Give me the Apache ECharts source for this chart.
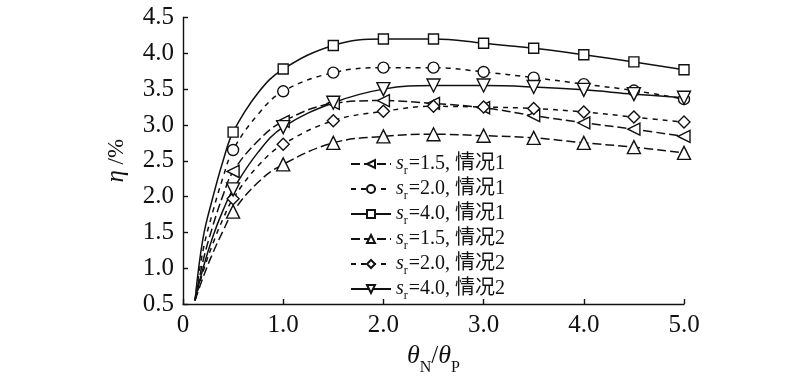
<!DOCTYPE html>
<html>
<head>
<meta charset="utf-8">
<script src="https://cdn.jsdelivr.net/npm/echarts@6/dist/echarts.min.js"></script>
<style>html,body{margin:0;padding:0;background:#fff;}#c{width:800px;height:381px;}</style>
</head>
<body>
<div id="c"></div>
<script>
// x positions (θN/θP); markers drawn only at 0.5, 1.0, ... 5.0
var xVals = [0.12, 0.2, 0.3, 0.4, 0.5, 0.75, 1.0, 1.5, 2.0, 2.5, 3.0, 3.5, 4.0, 4.5, 5.0];
var markerX = [0.5, 1.0, 1.5, 2.0, 2.5, 3.0, 3.5, 4.0, 4.5, 5.0];
// η (%) per series
var sr15case1 = [0.55, 1.10, 1.60, 2.02, 2.35, 2.78, 3.05, 3.30, 3.34, 3.30, 3.24, 3.13, 3.03, 2.94, 2.84];
var sr20case1 = [0.55, 1.25, 1.80, 2.27, 2.65, 3.15, 3.47, 3.73, 3.80, 3.80, 3.74, 3.66, 3.57, 3.48, 3.36];
var sr40case1 = [0.55, 1.42, 2.00, 2.50, 2.90, 3.45, 3.78, 4.11, 4.20, 4.20, 4.14, 4.07, 3.98, 3.88, 3.77];
var sr15case2 = [0.55, 0.87, 1.22, 1.52, 1.79, 2.20, 2.45, 2.75, 2.84, 2.87, 2.85, 2.82, 2.75, 2.69, 2.61];
var sr20case2 = [0.55, 0.95, 1.35, 1.69, 1.97, 2.43, 2.73, 3.06, 3.19, 3.26, 3.25, 3.23, 3.18, 3.11, 3.04];
var sr40case2 = [0.55, 1.00, 1.45, 1.81, 2.10, 2.62, 2.97, 3.31, 3.50, 3.55, 3.55, 3.53, 3.49, 3.43, 3.38];
var seriesNames = ['1.5, 情况1', '2.0, 情况1', '4.0, 情况1', '1.5, 情况2', '2.0, 情况2', '4.0, 情况2'];
var xTickLabels = ['0', '1.0', '2.0', '3.0', '4.0', '5.0'];
var yTickLabels = ['0.5', '1.0', '1.5', '2.0', '2.5', '3.0', '3.5', '4.0', '4.5'];

var FONT = '"Liberation Serif", "Noto Sans CJK SC", serif';
var INK = '#111';

function buildData(vals) {
  return vals.map(function (v, i) {
    var item = { value: [xVals[i], v] };
    if (markerX.indexOf(xVals[i]) < 0) item.symbol = 'none';
    return item;
  });
}

var styles = [
  { vals: sr15case1, symbol: 'triangle', rot: 90, size: 12, dash: [9, 4] },
  { vals: sr20case1, symbol: 'circle', rot: 0, size: 11, dash: [5, 5] },
  { vals: sr40case1, symbol: 'rect', rot: 0, size: 10, dash: 'solid' },
  { vals: sr15case2, symbol: 'triangle', rot: 0, size: 13, dash: [9, 4] },
  { vals: sr20case2, symbol: 'diamond', rot: 0, size: 12, dash: [5, 5] },
  { vals: sr40case2, symbol: 'triangle', rot: 180, size: 13, dash: 'solid' }
];

var series = styles.map(function (s, k) {
  return {
    name: seriesNames[k],
    type: 'line',
    data: buildData(s.vals),
    smooth: 0.4,
    symbol: s.symbol,
    symbolSize: s.size,
    symbolRotate: s.rot,
    showAllSymbol: true,
    itemStyle: { color: '#fff', borderColor: INK, borderWidth: 1.4 },
    lineStyle: { color: INK, width: 1.5, type: s.dash },
    emphasis: { disabled: true },
    z: 2
  };
});

var chart = echarts.init(document.getElementById('c'), null, { renderer: 'canvas' });
chart.setOption({
  animation: false,
  backgroundColor: '#fff',
  grid: { left: 183, right: 116, top: 17.5, bottom: 77, containLabel: false },
  xAxis: {
    type: 'value', min: 0, max: 5, interval: 1,
    axisLine: { show: true, lineStyle: { color: INK, width: 1.4 } },
    axisTick: { show: true, inside: true, length: 5, lineStyle: { color: INK, width: 1.4 } },
    splitLine: { show: false },
    axisLabel: {
      color: INK, fontFamily: FONT, fontSize: 25, margin: 9,
      formatter: function (v) { return xTickLabels[Math.round(v)]; }
    },
    name: '{i|θ}{sub|N}{n|/}{i|θ}{sub|P}',
    nameLocation: 'middle', nameGap: 39,
    nameTextStyle: {
      rich: {
        i: { fontFamily: FONT, fontStyle: 'italic', fontSize: 26, color: INK, lineHeight: 26 },
        n: { fontFamily: FONT, fontSize: 25, color: INK, lineHeight: 26 },
        sub: { fontFamily: FONT, fontSize: 16, color: INK, verticalAlign: 'bottom', lineHeight: 15, padding: [0, 0, -7, 0] }
      }
    }
  },
  yAxis: {
    type: 'value', min: 0.5, max: 4.5, interval: 0.5,
    axisLine: { show: true, lineStyle: { color: INK, width: 1.4 } },
    axisTick: { show: true, inside: true, length: 5, lineStyle: { color: INK, width: 1.4 } },
    splitLine: { show: false },
    axisLabel: {
      color: INK, fontFamily: FONT, fontSize: 25, margin: 9,
      formatter: function (v) { return yTickLabels[Math.round((v - 0.5) / 0.5)]; }
    },
    name: '{i|η}{n| /%}',
    nameLocation: 'middle', nameGap: 54, nameRotate: 90,
    nameTextStyle: {
      rich: {
        i: { fontFamily: FONT, fontStyle: 'italic', fontSize: 25, color: INK },
        n: { fontFamily: FONT, fontSize: 23, color: INK }
      }
    }
  },
  legend: {
    orient: 'vertical', left: 345, top: 149,
    itemWidth: 40, itemHeight: 10, itemGap: 2,
    data: seriesNames,
    formatter: function (name) { return '{i|s}{sub|r}{n|=' + name + '}'; },
    textStyle: {
      rich: {
        i: { fontFamily: FONT, fontStyle: 'italic', fontSize: 20, color: INK, lineHeight: 20 },
        n: { fontFamily: FONT, fontSize: 20, color: INK, lineHeight: 20 },
        sub: { fontFamily: FONT, fontSize: 12, color: INK, verticalAlign: 'bottom', lineHeight: 12, padding: [0, 1, -3, 0] }
      }
    }
  },
  series: series
});
</script>
</body>
</html>
